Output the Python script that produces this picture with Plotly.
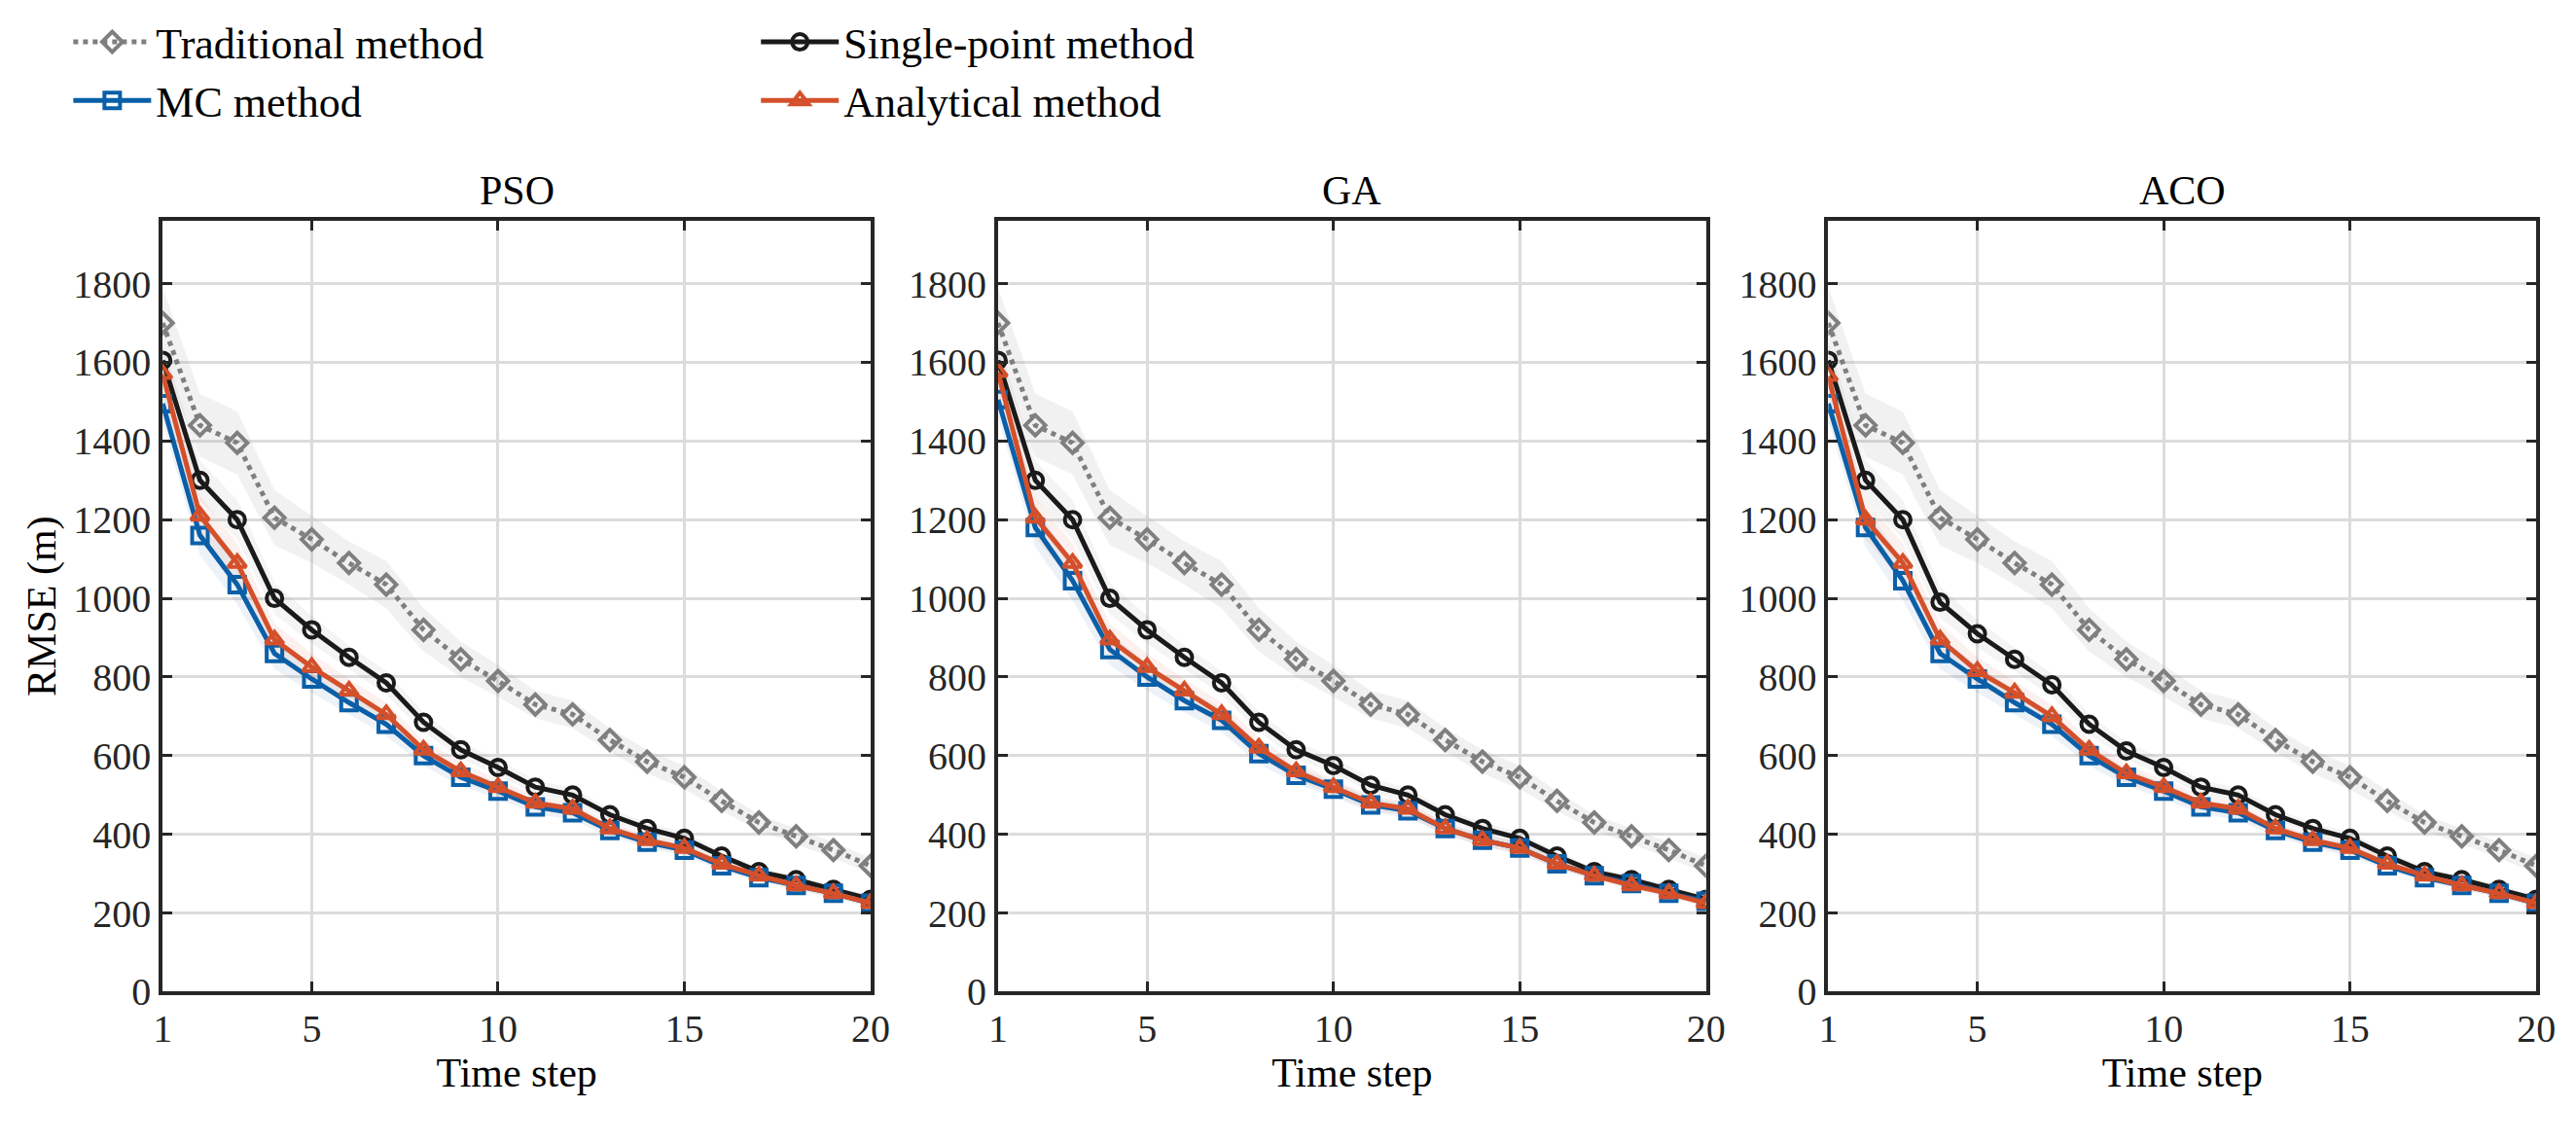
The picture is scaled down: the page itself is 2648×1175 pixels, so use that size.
import plotly.graph_objects as go

steps = list(range(1, 21))
panels = ["PSO", "GA", "ACO"]

trad = {
    "PSO": [1700, 1440, 1395, 1205, 1150, 1090, 1035, 920, 845, 790, 730, 705, 640, 585, 545, 485, 430, 395, 360, 320],
    "GA": [1700, 1440, 1395, 1205, 1150, 1090, 1035, 920, 845, 790, 730, 705, 640, 585, 545, 485, 430, 395, 360, 320],
    "ACO": [1700, 1440, 1395, 1205, 1150, 1090, 1035, 920, 845, 790, 730, 705, 640, 585, 545, 485, 430, 395, 360, 320],
}
single = {
    "PSO": [1605, 1300, 1200, 1000, 920, 850, 785, 685, 615, 570, 520, 500, 450, 415, 390, 345, 305, 285, 260, 235],
    "GA": [1605, 1300, 1200, 1000, 920, 850, 785, 685, 615, 575, 525, 500, 450, 415, 390, 345, 305, 285, 260, 235],
    "ACO": [1605, 1300, 1200, 990, 910, 845, 780, 680, 612, 570, 520, 500, 450, 415, 390, 345, 305, 285, 260, 235],
}
mc = {
    "PSO": [1495, 1160, 1035, 860, 795, 735, 680, 600, 545, 510, 470, 455, 410, 380, 360, 320, 290, 270, 250, 225],
    "GA": [1505, 1180, 1045, 870, 800, 740, 690, 605, 550, 515, 475, 460, 415, 385, 365, 325, 295, 275, 250, 230],
    "ACO": [1495, 1180, 1045, 860, 795, 735, 680, 600, 545, 510, 470, 455, 410, 380, 360, 320, 290, 270, 250, 225],
}
analytical = {
    "PSO": [1570, 1210, 1090, 895, 825, 765, 705, 615, 560, 520, 480, 465, 415, 385, 365, 325, 295, 270, 250, 225],
    "GA": [1575, 1205, 1090, 895, 825, 765, 705, 620, 560, 520, 480, 465, 415, 385, 365, 325, 295, 270, 250, 225],
    "ACO": [1565, 1200, 1090, 895, 815, 760, 700, 615, 555, 520, 480, 465, 415, 385, 365, 325, 295, 270, 250, 225],
}
trad_spread = [90, 80, 80, 70, 60, 55, 60, 55, 45, 40, 35, 35, 30, 30, 30, 25, 20, 20, 20, 20]
other_spread = [45, 50, 50, 40, 35, 30, 30, 25, 22, 20, 18, 18, 15, 15, 15, 12, 10, 10, 10, 10]

# name, data, colour, dash, marker, spread, band fill, legend column
series = [
    ("Traditional method", trad, "#7f7f7f", "dot", "diamond-open", trad_spread, "rgba(150,150,150,0.13)", "legend"),
    ("Single-point method", single, "#1a1a1a", "solid", "circle-open", other_spread, "rgba(120,120,120,0.08)", "legend2"),
    ("MC method", mc, "#0a5fa8", "solid", "square-open", other_spread, "rgba(10,95,168,0.08)", "legend"),
    ("Analytical method", analytical, "#d4502b", "solid", "triangle-up-open", other_spread, "rgba(212,80,43,0.08)", "legend2"),
]

domains = [[0.057, 0.335], [0.385, 0.663], [0.711, 0.989]]
font = "Liberation Serif, Times New Roman, serif"

fig = go.Figure()
for i, p in enumerate(panels):
    xa = "x" if i == 0 else f"x{i+1}"
    ya = "y" if i == 0 else f"y{i+1}"
    for name, data, color, dash, sym, spread, fill, lg in series:
        vals = data[p]
        up = [v + s for v, s in zip(vals, spread)]
        lo = [v - s for v, s in zip(vals, spread)]
        fig.add_trace(go.Scatter(x=steps + steps[::-1], y=up + lo[::-1], fill="toself",
                                 fillcolor=fill, line=dict(width=0), hoverinfo="skip",
                                 showlegend=False, xaxis=xa, yaxis=ya))
    for name, data, color, dash, sym, spread, fill, lg in series:
        fig.add_trace(go.Scatter(x=steps, y=data[p], mode="lines+markers", name=name,
                                 line=dict(color=color, width=5, dash=dash),
                                 marker=dict(symbol=sym, size=16, color=color, line=dict(width=4, color=color)),
                                 showlegend=(i == 0), legend=lg, xaxis=xa, yaxis=ya))

axis_common = dict(showline=True, linecolor="#262626", linewidth=4, mirror="ticks",
                   ticks="inside", ticklen=10, tickwidth=3, tickcolor="#262626",
                   showgrid=True, gridcolor="#dcdcdc", gridwidth=3, zeroline=False,
                   tickfont=dict(family=font, size=40, color="#262626"))
title_font = dict(family=font, size=42, color="#000")
layout = {}
for i, p in enumerate(panels):
    sx = "" if i == 0 else str(i + 1)
    layout[f"xaxis{sx}"] = dict(axis_common, domain=domains[i], range=[1, 20],
                                tickvals=[1, 5, 10, 15, 20], anchor=f"y{sx}",
                                title=dict(text="Time step", font=title_font, standoff=4))
    ya = dict(axis_common, domain=[0.122, 0.81], range=[0, 1960], dtick=200, anchor=f"x{sx}")
    if i == 0:
        ya["title"] = dict(text="RMSE (m)", font=title_font, standoff=6)
    layout[f"yaxis{sx}"] = ya
fig.update_layout(**layout)

for i, p in enumerate(panels):
    fig.add_annotation(text=p, x=sum(domains[i]) / 2, y=0.815, xref="paper", yref="paper",
                       xanchor="center", yanchor="bottom", showarrow=False, font=title_font)

legend_common = dict(orientation="v", y=1.0, yanchor="top", xanchor="left", itemwidth=80,
                     tracegroupgap=0, bgcolor="rgba(0,0,0,0)",
                     font=dict(family=font, size=44, color="#000"))
fig.update_layout(
    width=2648, height=1175, plot_bgcolor="white", paper_bgcolor="white",
    margin=dict(l=0, r=0, t=0, b=0),
    legend=dict(legend_common, x=0.02),
    legend2=dict(legend_common, x=0.29),
)
fig.write_html("out.html")
